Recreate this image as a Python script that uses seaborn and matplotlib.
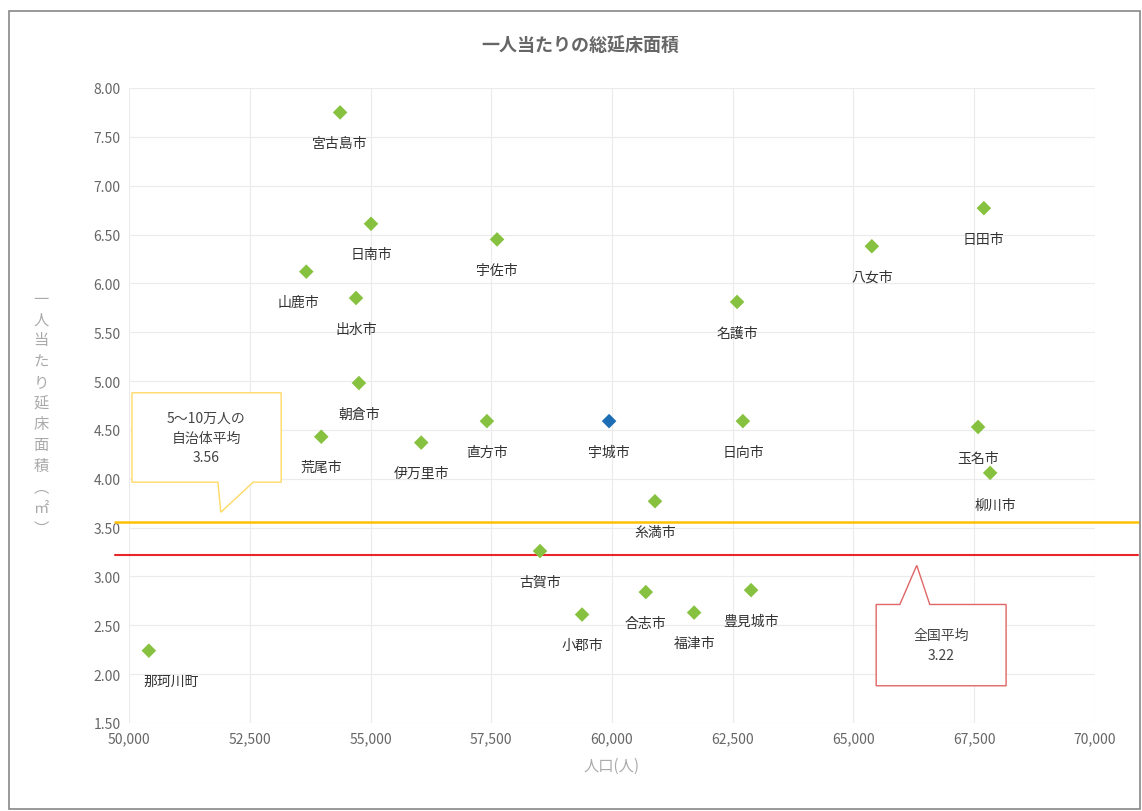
import matplotlib
matplotlib.use("Agg")
import matplotlib.pyplot as plt
from matplotlib.patches import Polygon
from matplotlib.ticker import FuncFormatter, MultipleLocator
import seaborn as sns
import pandas as pd

cities = ["宮古島市", "日南市", "宇佐市", "山鹿市", "出水市", "朝倉市", "荒尾市", "伊万里市",
          "直方市", "宇城市", "日向市", "名護市", "八女市", "日田市", "玉名市", "柳川市",
          "糸満市", "古賀市", "合志市", "小郡市", "福津市", "豊見城市", "那珂川町"]
population = [54370, 55010, 57620, 53670, 54700, 54760, 53980, 56050,
              57410, 59940, 62710, 62590, 65380, 67700, 67580, 67830,
              60890, 58510, 60700, 59380, 61700, 62880, 50410]
area = [7.75, 6.61, 6.45, 6.12, 5.85, 4.98, 4.43, 4.37,
        4.59, 4.59, 4.59, 5.81, 6.38, 6.77, 4.53, 4.06,
        3.77, 3.26, 2.84, 2.61, 2.63, 2.86, 2.24]
highlight = ["宇城市"]
avg_group = 3.56
avg_national = 3.22
x_ticks = [50000, 52500, 55000, 57500, 60000, 62500, 65000, 67500, 70000]

sns.set_theme(style="white")
plt.rcParams['font.family'] = ['Noto Sans CJK JP', 'DejaVu Sans']

df = pd.DataFrame({"city": cities, "pop": population, "area": area})
df["grp"] = ["hl" if c in highlight else "n" for c in cities]

fig = plt.figure(figsize=(11.42, 8.12), dpi=100)
ax = fig.add_axes([0.113, 0.1084, 0.8458, 0.782])

sns.scatterplot(data=df, x="pop", y="area", hue="grp",
                palette={"n": "#86C23F", "hl": "#1C6DB3"},
                marker="D", s=55, edgecolor="none", legend=False, ax=ax, zorder=3)

ax.set_xlim(50000, 70000)
ax.set_ylim(1.5, 8.0)
ax.set_xticks(x_ticks)
ax.yaxis.set_major_locator(MultipleLocator(0.5))
ax.xaxis.set_major_formatter(FuncFormatter(lambda v, p: f"{int(v):,}"))
ax.yaxis.set_major_formatter(FuncFormatter(lambda v, p: f"{v:.2f}"))
ax.grid(True, color="#EBEBEB", linewidth=0.8)
for s in ax.spines.values():
    s.set_visible(False)
ax.tick_params(axis="both", labelsize=10, colors="#666666", length=0, pad=6)

# label offsets in points
offsets = {"山鹿市": (-6, -22), "那珂川町": (16, -22), "柳川市": (4, -23),
           "福津市": (0, -22)}
for c, xv, yv in zip(cities, population, area):
    dx, dy = offsets.get(c, (0, -22))
    ax.annotate(c, (xv, yv), xytext=(dx, dy), textcoords="offset points",
                ha="center", va="center", fontsize=10, color="#333333")

ax.axhline(avg_group, xmin=-0.015, xmax=1.045, color="#FFC000", lw=1.8, clip_on=False, zorder=2)
ax.axhline(avg_national, xmin=-0.015, xmax=1.045, color="#E8262A", lw=1.5, clip_on=False, zorder=2)

# callout boxes (data coords)
yel = Polygon([(50060, 4.88), (53150, 4.88), (53150, 3.965), (52570, 3.965),
               (51900, 3.657), (51840, 3.965), (50060, 3.965)],
              closed=True, facecolor="white", edgecolor="#FFD966", lw=1.0, zorder=4, clip_on=False)
ax.add_patch(yel)
ax.text(51600, 4.42, "5〜10万人の\n自治体平均\n" + f"{avg_group:.2f}", ha="center", va="center",
        fontsize=10, color="#444444", linespacing=1.5, zorder=5)

red = Polygon([(65470, 2.713), (65960, 2.713), (66310, 3.113), (66580, 2.713),
               (68160, 2.713), (68160, 1.881), (65470, 1.881)],
              closed=True, facecolor="white", edgecolor="#E06666", lw=1.0, zorder=4, clip_on=False)
ax.add_patch(red)
ax.text(66815, 2.30, "全国平均\n" + f"{avg_national:.2f}", ha="center", va="center",
        fontsize=10, color="#444444", linespacing=1.5, zorder=5)

ax.set_xlabel("人口(人)", fontsize=11, color="#AAAAAA", labelpad=8)
ax.set_ylabel("")
fig.text(0.036, 0.49, "\n".join(list("一人当たり延床面積") + ["︵", "㎡", "︶"]),
         ha="center", va="center", fontsize=11, color="#AAAAAA", linespacing=1.3)

fig.suptitle("一人当たりの総延床面積", x=0.508, y=0.955, fontsize=13, color="#666666",
             fontweight="semibold")

border = plt.Rectangle((0.008, 0.003), 0.990, 0.982, transform=fig.transFigure,
                       fill=False, edgecolor="#888888", lw=1.2)
fig.patches.append(border)

fig.savefig("out.png", dpi=100)
